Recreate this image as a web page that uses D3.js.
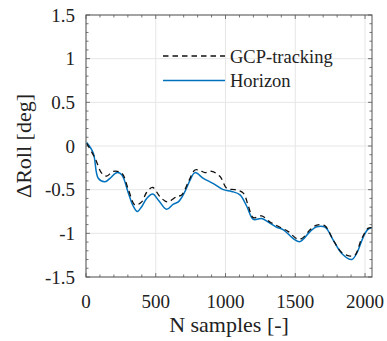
<!DOCTYPE html>
<html><head><meta charset="utf-8">
<script src="https://cdn.jsdelivr.net/npm/d3@7"></script>
<style>body{margin:0;background:#fff}svg{display:block}
text{font-family:"Liberation Serif","Times New Roman",serif;fill:#222}</style>
</head><body>
<svg id="c" width="387" height="341"></svg>
<script>
const horizonX = [5,52,88,136,172,220,256,304,339,368,399,435,478,519,578,626,662,710,746,781,841,913,984,1044,1104,1152,1199,1259,1307,1367,1415,1486,1534,1606,1654,1713,1773,1833,1905,1940,1988,2017,2048];
const horizonY = [0.04,-0.08,-0.37,-0.41,-0.37,-0.305,-0.33,-0.54,-0.69,-0.75,-0.695,-0.6,-0.55,-0.62,-0.725,-0.665,-0.64,-0.52,-0.39,-0.305,-0.37,-0.43,-0.50,-0.52,-0.56,-0.69,-0.84,-0.83,-0.87,-0.93,-0.96,-1.06,-1.095,-0.98,-0.925,-0.93,-1.08,-1.23,-1.30,-1.23,-1.04,-0.96,-0.935];
const gcpX = [5,65,112,148,196,256,304,351,399,435,478,530,583,650,686,734,781,817,853,901,961,1009,1068,1128,1164,1199,1259,1319,1391,1450,1510,1546,1606,1654,1713,1773,1833,1892,1928,1976,2024,2048];
const gcpY = [0.03,-0.14,-0.31,-0.345,-0.29,-0.31,-0.50,-0.675,-0.64,-0.53,-0.475,-0.58,-0.64,-0.58,-0.56,-0.41,-0.275,-0.28,-0.305,-0.29,-0.35,-0.485,-0.50,-0.54,-0.69,-0.82,-0.80,-0.87,-0.93,-0.98,-1.06,-1.06,-0.96,-0.905,-0.915,-1.08,-1.22,-1.26,-1.25,-1.06,-0.94,-0.935];
const xTicks = [0,500,1000,1500,2000];
const yTicks = [-1.5,-1,-0.5,0,0.5,1,1.5];
const seriesNames = ["GCP-tracking","Horizon"];

const svg = d3.select("#c");
const L=86, R=372, T=15, B=277;
const x = d3.scaleLinear().domain([0,2050]).range([L,R]);
const y = d3.scaleLinear().domain([-1.5,1.5]).range([B,T]);

// grid
svg.append("g").selectAll("line").data(xTicks).join("line")
  .attr("x1",d=>x(d)).attr("x2",d=>x(d)).attr("y1",T).attr("y2",B)
  .attr("stroke","#e6e6e6").attr("stroke-width",1);
svg.append("g").selectAll("line").data(yTicks).join("line")
  .attr("y1",d=>y(d)).attr("y2",d=>y(d)).attr("x1",L).attr("x2",R)
  .attr("stroke","#e6e6e6").attr("stroke-width",1);

// minor ticks
const xMinor = d3.range(0,2051,100);
const yMinor = d3.range(-15,16).map(v=>v/10);
const tk = svg.append("g").attr("stroke","#555").attr("stroke-width",0.8);
xMinor.forEach(v=>{
  const len = (v%500===0)?4:2.5;
  tk.append("line").attr("x1",x(v)).attr("x2",x(v)).attr("y1",B).attr("y2",B-len);
  tk.append("line").attr("x1",x(v)).attr("x2",x(v)).attr("y1",T).attr("y2",T+len);
});
yMinor.forEach(v=>{
  const len = (Math.abs(Math.round(v*10))%5===0)?4:2.5;
  tk.append("line").attr("y1",y(v)).attr("y2",y(v)).attr("x1",L).attr("x2",L+len);
  tk.append("line").attr("y1",y(v)).attr("y2",y(v)).attr("x1",R).attr("x2",R-len);
});

// lines
const line = d3.line().x(d=>x(d[0])).y(d=>y(d[1])).curve(d3.curveCatmullRom.alpha(0.5));
const gcp = gcpX.map((v,i)=>[v,gcpY[i]]);
const hor = horizonX.map((v,i)=>[v,horizonY[i]]);
svg.append("path").attr("d",line(hor)).attr("fill","none").attr("stroke","#0072BD").attr("stroke-width",1.5);
svg.append("path").attr("d",line(gcp)).attr("fill","none").attr("stroke","#111").attr("stroke-width",1.3).attr("stroke-dasharray","5.5,4");

// box
svg.append("rect").attr("x",L).attr("y",T).attr("width",R-L).attr("height",B-T)
  .attr("fill","none").attr("stroke","#555").attr("stroke-width",1);

// tick labels
svg.append("g").selectAll("text").data(xTicks).join("text")
  .attr("x",d=>x(d)).attr("y",308).attr("text-anchor","middle")
  .attr("font-size",19).text(d=>d);
svg.append("g").selectAll("text").data(yTicks).join("text")
  .attr("x",75).attr("y",d=>y(d)+6.5).attr("text-anchor","end")
  .attr("font-size",19).text(d=>d);

// axis labels
svg.append("text").attr("x",x(1025)).attr("y",332).attr("text-anchor","middle")
  .attr("font-size",22).text("N samples [-]");
svg.append("text").attr("transform","translate(31,146) rotate(-90)").attr("text-anchor","middle")
  .attr("font-size",22).text("ΔRoll [deg]");

// legend
const lg = svg.append("g");
lg.append("line").attr("x1",163).attr("x2",225).attr("y1",56).attr("y2",56)
  .attr("stroke","#111").attr("stroke-width",1.3).attr("stroke-dasharray","5.5,4");
lg.append("line").attr("x1",163).attr("x2",225).attr("y1",80.5).attr("y2",80.5)
  .attr("stroke","#0072BD").attr("stroke-width",1.5);
lg.selectAll("text").data(seriesNames).join("text")
  .attr("x",230).attr("y",(d,i)=>62.5+i*24.5)
  .attr("font-size",18.5).text(d=>d);
</script>
</body></html>
